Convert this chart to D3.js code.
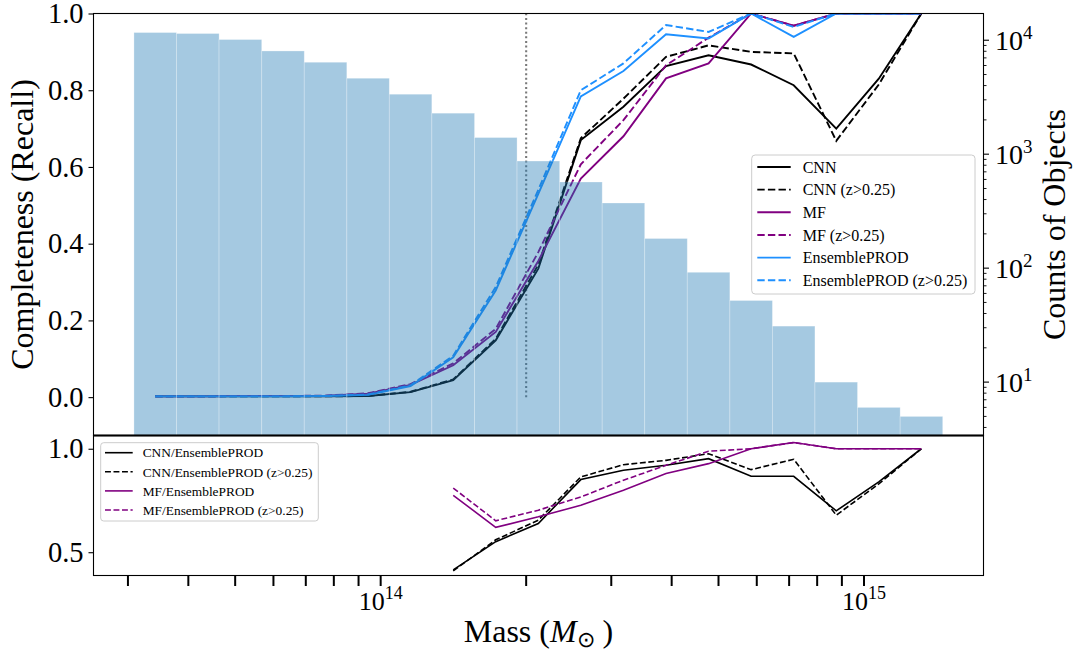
<!DOCTYPE html>
<html><head><meta charset="utf-8">
<script src="https://cdn.jsdelivr.net/npm/d3@7"></script>
<style>
body{margin:0;background:#fff}
svg{display:block}
text{font-family:"Liberation Serif","Times New Roman",serif;fill:#000}
</style>
</head><body>
<svg id="chart" width="1079" height="655"></svg>
<script>
// ---------------- DATA ----------------
const binEdges = [3.087e13,3.781e13,4.631e13,5.674e13,6.949e13,8.511e13,1.042e14,1.276e14,1.564e14,1.915e14,
  2.346e14,2.873e14,3.518e14,4.309e14,5.278e14,6.464e14,7.916e14,9.696e14,1.188e15,1.455e15];
const counts = [11680,11450,10140,8050,6410,4640,3360,2290,1400,871,570,373,182,92,52,31,10,6,5];
const massCenters = [3.417e13,4.184e13,5.125e13,6.278e13,7.689e13,9.417e13,1.153e14,1.413e14,1.730e14,2.119e14,
  2.595e14,3.179e14,3.894e14,4.769e14,5.841e14,7.154e14,8.762e14,1.073e15,1.314e15];

const cnn      = [0.002,0.002,0.002,0.002,0.002,0.003,0.013,0.044,0.148,0.335,0.670,0.757,0.863,0.891,0.867,0.813,0.700,0.830,1.0];
const cnnZ     = [0.002,0.002,0.002,0.002,0.002,0.003,0.014,0.046,0.152,0.345,0.675,0.778,0.887,0.917,0.900,0.896,0.668,0.815,1.0];
const mf       = [0.002,0.002,0.003,0.003,0.004,0.009,0.032,0.083,0.170,0.355,0.570,0.680,0.831,0.870,1.0,0.968,1.0,1.0,1.0];
const mfZ      = [0.002,0.002,0.003,0.003,0.004,0.010,0.034,0.088,0.178,0.378,0.607,0.722,0.865,0.937,1.0,0.968,1.0,1.0,1.0];
const ens      = [0.002,0.002,0.002,0.002,0.003,0.006,0.029,0.104,0.278,0.530,0.784,0.850,0.946,0.935,1.0,0.939,1.0,1.0,1.0];
const ensZ     = [0.002,0.002,0.002,0.002,0.003,0.007,0.031,0.108,0.287,0.540,0.800,0.870,0.970,0.952,1.0,0.965,1.0,1.0,1.0];

const ratioMass = massCenters.slice(7);
const cnnRatio  = [0.415,0.551,0.639,0.851,0.896,0.920,0.952,0.867,0.867,0.700,0.840,1.0];
const cnnRatioZ = [0.410,0.560,0.655,0.864,0.923,0.944,0.976,0.899,0.949,0.679,0.830,1.0];
const mfRatio   = [0.775,0.620,0.671,0.727,0.800,0.880,0.928,1.0,1.030,1.0,1.0,1.0];
const mfRatioZ  = [0.810,0.652,0.703,0.767,0.848,0.920,0.988,1.0,1.030,1.0,1.0,1.0];

const completenessTicks = [0.0,0.2,0.4,0.6,0.8,1.0];
const ratioTicks = [0.5,1.0];
const countTicks = [10,100,1000,10000];
const massMajorTicks = [1e14,1e15];
const massMinorTicks = [3e13,4e13,5e13,6e13,7e13,8e13,9e13,2e14,3e14,4e14,5e14,6e14,7e14,8e14,9e14];
const thresholdMass = 2e14;

const mainLegend = [
  {label:"CNN", color:"#000000", dash:false},
  {label:"CNN (z>0.25)", color:"#000000", dash:true},
  {label:"MF", color:"#800080", dash:false},
  {label:"MF (z>0.25)", color:"#800080", dash:true},
  {label:"EnsemblePROD", color:"#1e90ff", dash:false},
  {label:"EnsemblePROD (z>0.25)", color:"#1e90ff", dash:true}
];
const ratioLegend = [
  {label:"CNN/EnsemblePROD", color:"#000000", dash:false},
  {label:"CNN/EnsemblePROD (z>0.25)", color:"#000000", dash:true},
  {label:"MF/EnsemblePROD", color:"#800080", dash:false},
  {label:"MF/EnsemblePROD (z>0.25)", color:"#800080", dash:true}
];

// ---------------- LAYOUT ----------------
const L = 93.5, R = 983.5, T = 13.5, M = 435.5, B = 575.5;
const svg = d3.select("#chart");

const x = d3.scaleLog().domain([2.546e13, 1.767e15]).range([L, R]);
const yMain = d3.scaleLinear().domain([-0.1, 1.0]).range([M, T]);
const yCount = d3.scaleLog().domain([3.40, 17160]).range([M, T]);
const yRatio = d3.scaleLinear().domain([0.3875, 1.064]).range([B, M]);

const defs = svg.append("defs");
defs.append("clipPath").attr("id","clipMain").append("rect").attr("x",L).attr("y",T).attr("width",R-L).attr("height",M-T);
defs.append("clipPath").attr("id","clipRatio").append("rect").attr("x",L).attr("y",M).attr("width",R-L).attr("height",B-M);

// ---------------- MAIN PANEL ----------------
const gMain = svg.append("g").attr("clip-path","url(#clipMain)");

gMain.append("line")
  .attr("x1", x(thresholdMass)).attr("x2", x(thresholdMass))
  .attr("y1", yMain(0)).attr("y2", yMain(1))
  .attr("stroke","#7a7a7a").attr("stroke-width",2.1).attr("stroke-dasharray","2,2.6");

const lineMain = d3.line().x((d,i)=>x(massCenters[i])).y(d=>yMain(d));
const seriesMain = [
  {v:cnn, c:"#000000", dash:false},
  {v:cnnZ, c:"#000000", dash:true},
  {v:mf, c:"#800080", dash:false},
  {v:mfZ, c:"#800080", dash:true},
  {v:ens, c:"#1e90ff", dash:false},
  {v:ensZ, c:"#1e90ff", dash:true}
];
seriesMain.forEach(s=>{
  gMain.append("path").datum(s.v).attr("d", lineMain)
    .attr("fill","none").attr("stroke", s.c).attr("stroke-width",1.9)
    .attr("stroke-dasharray", s.dash ? "7.4,3.2" : null);
});

gMain.selectAll("rect.bar").data(counts).enter().append("rect")
  .attr("class","bar")
  .attr("x",(d,i)=>x(binEdges[i]))
  .attr("width",(d,i)=>x(binEdges[i+1])-x(binEdges[i]))
  .attr("y", d=>yCount(d))
  .attr("height", d=>M - yCount(d))
  .attr("fill","#1f77b4").attr("fill-opacity",0.4)
  .attr("stroke","#ffffff").attr("stroke-opacity",0.35).attr("stroke-width",0.8);

const lg1 = svg.append("g");
lg1.append("rect").attr("x",751.7).attr("y",155).attr("width",223.3).attr("height",139).attr("rx",3.5)
  .attr("fill","#ffffff").attr("fill-opacity",0.8).attr("stroke","#cccccc").attr("stroke-width",1);
mainLegend.forEach((e,i)=>{
  const yy = 167 + i*22.66;
  lg1.append("line").attr("x1",757.3).attr("x2",790.7).attr("y1",yy).attr("y2",yy)
    .attr("stroke",e.color).attr("stroke-width",1.9).attr("stroke-dasharray",e.dash?"7.4,3.2":null);
  lg1.append("text").attr("x",802.7).attr("y",yy+5.6).attr("font-size",16).text(e.label);
});

// ---------------- RATIO PANEL ----------------
const gRatio = svg.append("g").attr("clip-path","url(#clipRatio)");
const lineRatio = d3.line().x((d,i)=>x(ratioMass[i])).y(d=>yRatio(d));
[
  {v:cnnRatio, c:"#000000", dash:false},
  {v:cnnRatioZ, c:"#000000", dash:true},
  {v:mfRatio, c:"#800080", dash:false},
  {v:mfRatioZ, c:"#800080", dash:true}
].forEach(s=>{
  gRatio.append("path").datum(s.v).attr("d", lineRatio)
    .attr("fill","none").attr("stroke", s.c).attr("stroke-width",1.6)
    .attr("stroke-dasharray", s.dash ? "5.9,2.6" : null);
});

const lg2 = svg.append("g");
lg2.append("rect").attr("x",100.7).attr("y",442.7).attr("width",217.6).attr("height",78.3).attr("rx",3)
  .attr("fill","#ffffff").attr("fill-opacity",0.8).attr("stroke","#cccccc").attr("stroke-width",1);
ratioLegend.forEach((e,i)=>{
  const yy = 452.7 + i*19.1;
  lg2.append("line").attr("x1",105).attr("x2",132.7).attr("y1",yy).attr("y2",yy)
    .attr("stroke",e.color).attr("stroke-width",1.6).attr("stroke-dasharray",e.dash?"5.9,2.6":null);
  lg2.append("text").attr("x",142.7).attr("y",yy+4.7).attr("font-size",13.4).text(e.label);
});

// ---------------- SPINES ----------------
const sp = svg.append("g").attr("stroke","#000").attr("fill","none");
sp.append("rect").attr("x",L).attr("y",T).attr("width",R-L).attr("height",M-T).attr("stroke-width",1.1);
sp.append("rect").attr("x",L).attr("y",M).attr("width",R-L).attr("height",B-M).attr("stroke-width",1.1);
sp.append("line").attr("x1",L).attr("x2",R).attr("y1",M).attr("y2",M).attr("stroke-width",2);

// ---------------- AXES ----------------
const axLeft = svg.append("g").attr("transform",`translate(${L},0)`)
  .call(d3.axisLeft(yMain).tickValues(completenessTicks).tickFormat(d3.format(".1f")).tickSize(5).tickPadding(5));
const axRatio = svg.append("g").attr("transform",`translate(${L},0)`)
  .call(d3.axisLeft(yRatio).tickValues(ratioTicks).tickFormat(d3.format(".1f")).tickSize(5).tickPadding(5));
[axLeft, axRatio].forEach(a=>{
  a.select(".domain").remove();
  a.selectAll(".tick line").attr("stroke","#000").attr("stroke-width",1.1);
  a.selectAll(".tick text").attr("font-family","Liberation Serif, serif").attr("font-size",28.5).attr("fill","#000");
});

const axRight = svg.append("g").attr("transform",`translate(${R},0)`);
const countMinor = [];
[1,10,100,1000,10000].forEach(dec=>{ for(let k=2;k<=9;k++){ const v=dec*k; if(v>=3.40 && v<=17160) countMinor.push(v);} });
axRight.selectAll("line.minor").data(countMinor).enter().append("line")
  .attr("x1",0).attr("x2",3).attr("y1",d=>yCount(d)).attr("y2",d=>yCount(d))
  .attr("stroke","#000").attr("stroke-width",0.9);
const rt = axRight.selectAll("g.rt").data(countTicks).enter().append("g").attr("transform",d=>`translate(0,${yCount(d)})`);
rt.append("line").attr("x1",0).attr("x2",5.5).attr("stroke","#000").attr("stroke-width",1.1);
const rtText = rt.append("text").attr("x",11.5).attr("y",10).attr("font-size",28);
rtText.append("tspan").text("10");
rtText.append("tspan").attr("dy",-11).attr("font-size",19).text(d=>String(Math.round(Math.log10(d))));

const axX = svg.append("g").attr("transform",`translate(0,${B})`);
axX.selectAll("line.xt").data(massMajorTicks.concat(massMinorTicks)).enter().append("line")
  .attr("x1",d=>x(d)).attr("x2",d=>x(d)).attr("y1",0).attr("y2",10.5)
  .attr("stroke","#000").attr("stroke-width",2);
const xt = axX.selectAll("text.xl").data(massMajorTicks).enter().append("text")
  .attr("x",d=>x(d)).attr("y",34.5).attr("text-anchor","middle").attr("font-size",26);
xt.append("tspan").text("10");
xt.append("tspan").attr("dy",-11).attr("font-size",18).text(d=>String(Math.round(Math.log10(d))));

// ---------------- LABELS ----------------
svg.append("text").attr("transform",`translate(33,224.5) rotate(-90)`).attr("text-anchor","middle")
  .attr("font-size",32).text("Completeness (Recall)");
svg.append("text").attr("transform",`translate(1065,224.5) rotate(-90)`).attr("text-anchor","middle")
  .attr("font-size",32).text("Counts of Objects");
const xl = svg.append("text").attr("x",538.5).attr("y",641.5).attr("text-anchor","middle").attr("font-size",32);
xl.append("tspan").text("Mass (");
xl.append("tspan").attr("font-style","italic").text("M");
xl.append("tspan").attr("dy",5).attr("font-size",22).text("⊙");
xl.append("tspan").attr("dy",-5).text(" )");
</script>
</body></html>
